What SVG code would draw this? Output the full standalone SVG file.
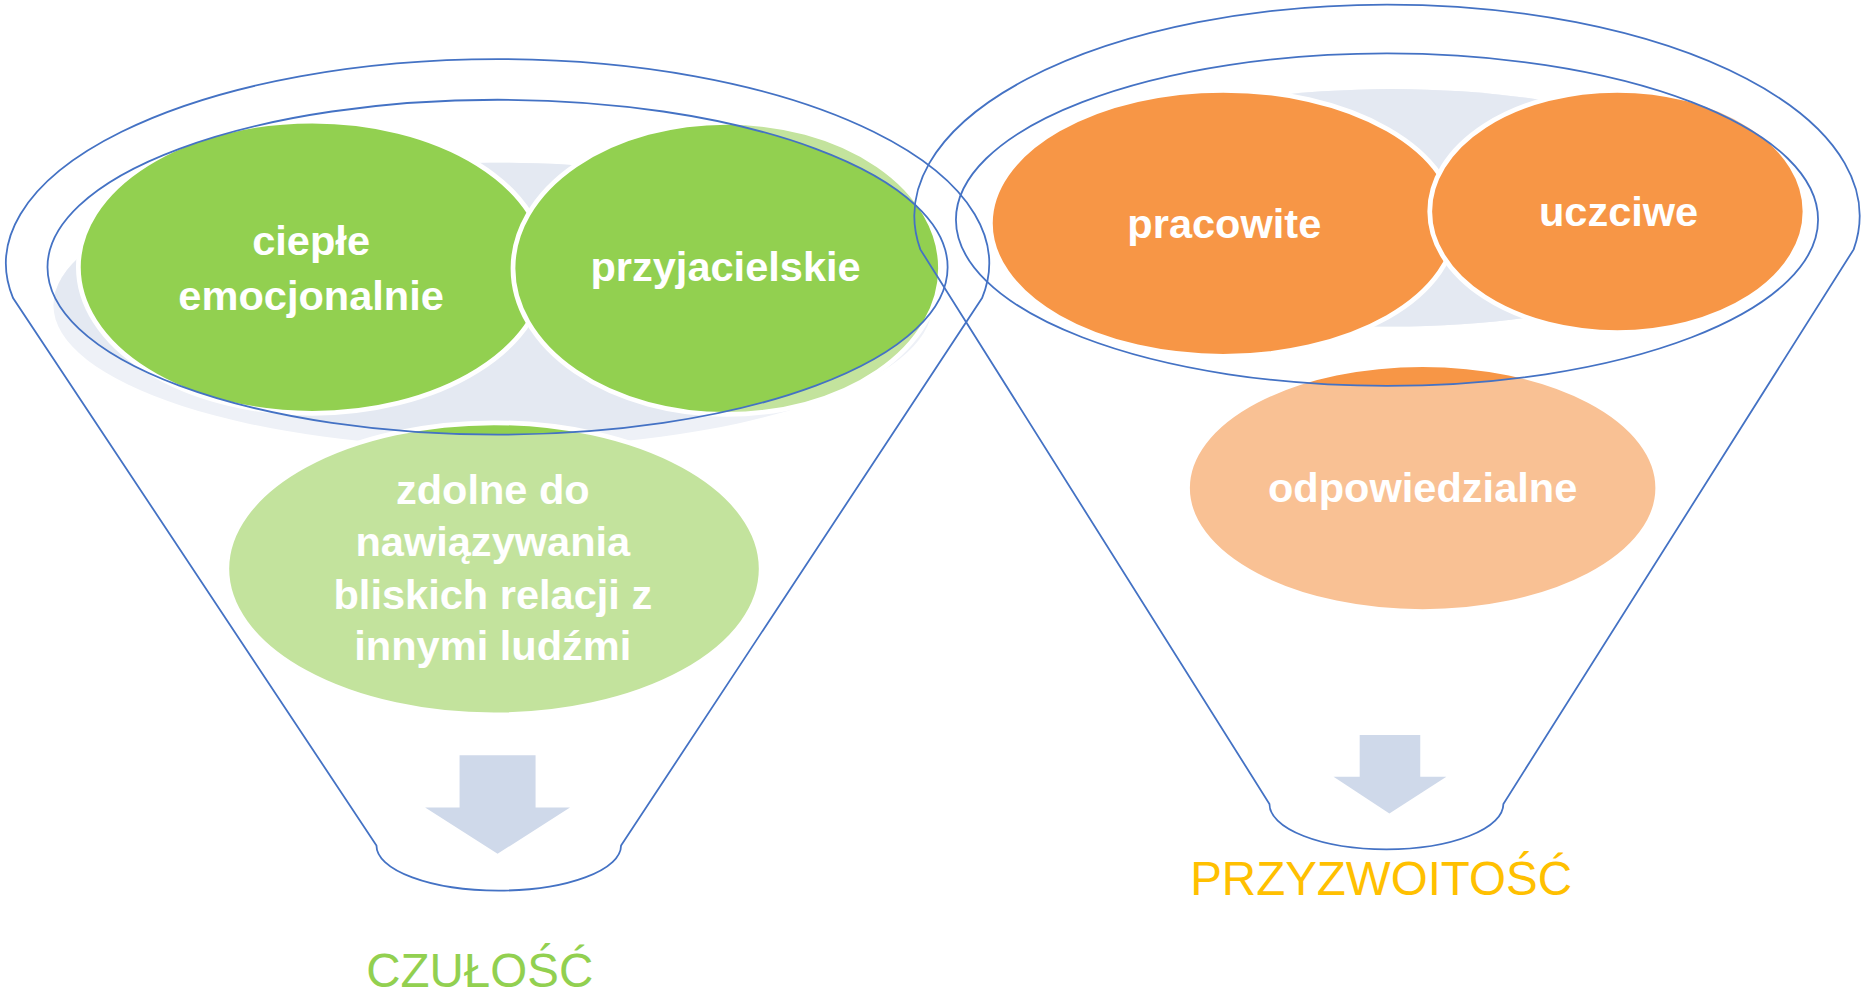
<svg xmlns="http://www.w3.org/2000/svg" width="1862" height="998" viewBox="0 0 1862 998">
<style>
.rim{fill:none;stroke:#4472C4;stroke-width:1.5}
.ws{fill:none;stroke:#FFFFFF;stroke-width:4}
.g{fill:#92D050}
.gl{fill:#C3E39D}
.o{fill:#F79646}
.ol{fill:#F9C194}
.bgd{fill:#E4E9F2}
.bgl{fill:#EEF1F7}
.arr{fill:#CFD9EA}
.t{font-family:"Liberation Sans",Arial,sans-serif;font-weight:bold;font-size:35px;fill:#FFFFFF;text-anchor:middle}
.lbl{font-family:"Liberation Sans",Arial,sans-serif;font-size:40px;text-anchor:middle}
</style>
<defs>
<clipPath id="clipL"><ellipse cx="419" cy="225" rx="379" ry="141"/></clipPath>
<clipPath id="clipR"><ellipse cx="1168" cy="185" rx="363" ry="140"/></clipPath>
</defs>
<rect x="0" y="0" width="1862" height="998" fill="#FFFFFF"/>
<g transform="scale(1.1875)">
<g id="funnel-left">
<g id="bg-left">
<ellipse class="bgl" cx="415" cy="257" rx="370" ry="120"/>
<ellipse class="bgd" cx="415" cy="257" rx="370" ry="120" clip-path="url(#clipL)"/>
</g>
<g id="node-cieple">
<ellipse class="gl" cx="263" cy="225" rx="197" ry="123"/>
<ellipse class="g" cx="263" cy="225" rx="197" ry="123" clip-path="url(#clipL)"/>
<ellipse class="ws" cx="263" cy="225" rx="197" ry="123"/>
<text class="t" x="262" y="215">ciepłe</text>
<text class="t" x="262" y="261">emocjonalnie</text>
</g>
<g id="node-przyjacielskie">
<ellipse class="gl" cx="612" cy="226" rx="180" ry="123"/>
<ellipse class="g" cx="612" cy="226" rx="180" ry="123" clip-path="url(#clipL)"/>
<ellipse class="ws" cx="612" cy="226" rx="180" ry="123"/>
<text class="t" x="611" y="237">przyjacielskie</text>
</g>
<g id="node-zdolne">
<ellipse class="gl" cx="416" cy="479" rx="225" ry="123"/>
<ellipse class="g" cx="416" cy="479" rx="225" ry="123" clip-path="url(#clipL)"/>
<ellipse class="ws" cx="416" cy="479" rx="225" ry="123"/>
<text class="t" x="415" y="424">zdolne do</text>
<text class="t" x="415" y="468">nawiązywania</text>
<text class="t" x="415" y="513">bliskich relacji z</text>
<text class="t" x="415" y="556">innymi ludźmi</text>
</g>
<g id="rim-left">
<ellipse class="rim" cx="419" cy="225" rx="379" ry="141"/>
<path class="rim" d="M11,251 A414,172 0 1 1 827,251 L523,712 A103,38 0 0 1 317,712 Z"/>
</g>
<g id="arrow-left">
<polygon class="arr" points="387,636 451,636 451,680 480,680 419,719 358,680 387,680"/>
</g>
<text id="label-czulosc" class="lbl" x="404" y="831" fill="#92D050">CZUŁOŚĆ</text>
</g>
<g id="funnel-right">
<g id="bg-right">
<ellipse class="bgl" cx="1172" cy="175" rx="300" ry="100"/>
<ellipse class="bgd" cx="1172" cy="175" rx="300" ry="100" clip-path="url(#clipR)"/>
</g>
<g id="node-pracowite">
<ellipse class="ol" cx="1030" cy="188" rx="196" ry="112"/>
<ellipse class="o" cx="1030" cy="188" rx="196" ry="112" clip-path="url(#clipR)"/>
<ellipse class="ws" cx="1030" cy="188" rx="196" ry="112"/>
<text class="t" x="1031" y="200">pracowite</text>
</g>
<g id="node-uczciwe">
<ellipse class="ol" cx="1362" cy="178" rx="158" ry="102"/>
<ellipse class="o" cx="1362" cy="178" rx="158" ry="102" clip-path="url(#clipR)"/>
<ellipse class="ws" cx="1362" cy="178" rx="158" ry="102"/>
<text class="t" x="1363" y="190">uczciwe</text>
</g>
<g id="node-odpowiedzialne">
<ellipse class="ol" cx="1198" cy="411" rx="198" ry="104"/>
<ellipse class="o" cx="1198" cy="411" rx="198" ry="104" clip-path="url(#clipR)"/>
<ellipse class="ws" cx="1198" cy="411" rx="198" ry="104"/>
<text class="t" x="1198" y="423">odpowiedzialne</text>
</g>
<g id="rim-right">
<ellipse class="rim" cx="1168" cy="185" rx="363" ry="140"/>
<path class="rim" d="M775,210 A398,178 0 1 1 1561,210 L1266,677 A98,38 0 0 1 1069,677 Z"/>
</g>
<g id="arrow-right">
<polygon class="arr" points="1145,619 1196,619 1196,654 1218,654 1170,685 1123,654 1145,654"/>
</g>
<text id="label-przyzwoitosc" class="lbl" x="1163" y="754" fill="#FFC000">PRZYZWOITOŚĆ</text>
</g>
</g>
</svg>
